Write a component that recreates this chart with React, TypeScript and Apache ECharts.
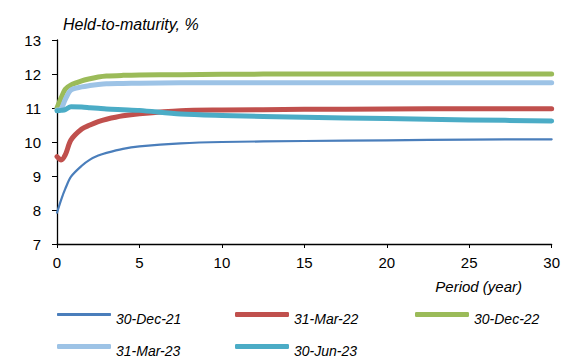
import React, { useEffect, useRef } from "react";
import * as echarts from "echarts";

const periods = [0, 0.25, 0.5, 0.85, 1.5, 2, 2.5, 3, 4, 5, 7.5, 10, 15, 20, 25, 30];
const dec21 = [7.92, 8.3, 8.62, 8.98, 9.3, 9.48, 9.6, 9.68, 9.8, 9.87, 9.96, 10.0, 10.03, 10.05, 10.07, 10.08];
const mar22 = [9.57, 9.47, 9.62, 10.06, 10.38, 10.5, 10.6, 10.67, 10.77, 10.83, 10.92, 10.94, 10.96, 10.97, 10.98, 10.98];
const dec22 = [11.0, 11.3, 11.55, 11.68, 11.8, 11.86, 11.91, 11.94, 11.96, 11.97, 11.98, 11.99, 12.0, 12.0, 12.0, 12.0];
const mar23 = [10.94, 10.98, 11.25, 11.53, 11.62, 11.66, 11.69, 11.71, 11.72, 11.73, 11.74, 11.74, 11.74, 11.74, 11.74, 11.74];
const jun23 = [10.92, 10.93, 10.95, 11.04, 11.03, 11.01, 10.99, 10.97, 10.95, 10.93, 10.82, 10.78, 10.73, 10.69, 10.65, 10.62];

const seriesNames = ["30-Dec-21", "31-Mar-22", "30-Dec-22", "31-Mar-23", "30-Jun-23"];
const seriesData = [dec21, mar22, dec22, mar23, jun23];
const colors = ["#4A7EBB", "#C0504D", "#9BBB59", "#9DC3E6", "#4BACC6"];
const widths = [2.2, 5, 5, 5, 5];
const yTicks = [7, 8, 9, 10, 11, 12, 13];
const xTicks = [0, 5, 10, 15, 20, 25, 30];

const FONT = "'Liberation Sans', Arial, sans-serif";

export default function App() {
  const ref = useRef<HTMLDivElement>(null);
  useEffect(() => {
    if (!ref.current) return;
    const chart = echarts.init(ref.current, null, { renderer: "svg" });
    const legendPos = [
      { left: 57, top: 312 },
      { left: 235, top: 312 },
      { left: 415, top: 312 },
      { left: 57, top: 344 },
      { left: 235, top: 344 },
    ];
    chart.setOption({
      animation: false,
      color: colors,
      title: {
        text: "Held-to-maturity, %",
        left: 58,
        top: 11,
        textStyle: { fontFamily: FONT, fontStyle: "italic", fontWeight: "normal", fontSize: 16, color: "#000" },
      },
      grid: { left: 57, right: 10, top: 40, bottom: 114 },
      xAxis: {
        type: "value",
        min: xTicks[0],
        max: xTicks[xTicks.length - 1],
        interval: 5,
        axisLine: { show: true, lineStyle: { color: "#000", width: 1.3 } },
        axisTick: { show: true, length: 4, lineStyle: { color: "#000" } },
        axisLabel: { fontFamily: FONT, fontSize: 15, color: "#000", margin: 11 },
        splitLine: { show: false },
      },
      yAxis: {
        type: "value",
        min: yTicks[0],
        max: yTicks[yTicks.length - 1],
        interval: 1,
        axisLine: { show: true, lineStyle: { color: "#000", width: 1.3 } },
        axisTick: { show: true, length: 5, lineStyle: { color: "#000" } },
        axisLabel: { fontFamily: FONT, fontSize: 15, color: "#000", margin: 16 },
        splitLine: { show: false },
      },
      legend: seriesNames.map((n, i) => ({
        data: [n],
        left: legendPos[i].left,
        top: legendPos[i].top,
        padding: 0,
        orient: "horizontal",
        icon: "roundRect",
        itemWidth: 54,
        itemHeight: i === 0 ? 3 : 5,
        itemGap: 5,
        selectedMode: false,
        formatter: "{a|{name}}",
        textStyle: {
          fontFamily: FONT,
          fontStyle: "italic",
          fontSize: 14,
          color: "#000",
          rich: {
            a: {
              fontFamily: FONT,
              fontStyle: "italic",
              fontSize: 14,
              color: "#000",
              padding: [9, 0, 0, 0],
            },
          },
        },
      })),
      graphic: [
        {
          type: "text",
          right: 563 - 522,
          top: 279,
          style: { text: "Period (year)", fontFamily: FONT, fontStyle: "italic", fontSize: 15, fill: "#000" },
        },
      ],
      series: seriesNames.map((n, i) => ({
        name: n,
        type: "line",
        data: periods.map((p, j) => [p, seriesData[i][j]]),
        showSymbol: false,
        symbol: "none",
        smooth: 0.3,
        lineStyle: { width: widths[i], color: colors[i], cap: "round", join: "round" },
        itemStyle: { color: colors[i] },
        z: i === 4 ? 5 : 2 + i,
      })),
    });
    return () => chart.dispose();
  }, []);
  return (
    <div
      ref={ref}
      style={{ position: "absolute", left: 0, top: 0, width: 563, height: 358, background: "#fff" }}
    />
  );
}
